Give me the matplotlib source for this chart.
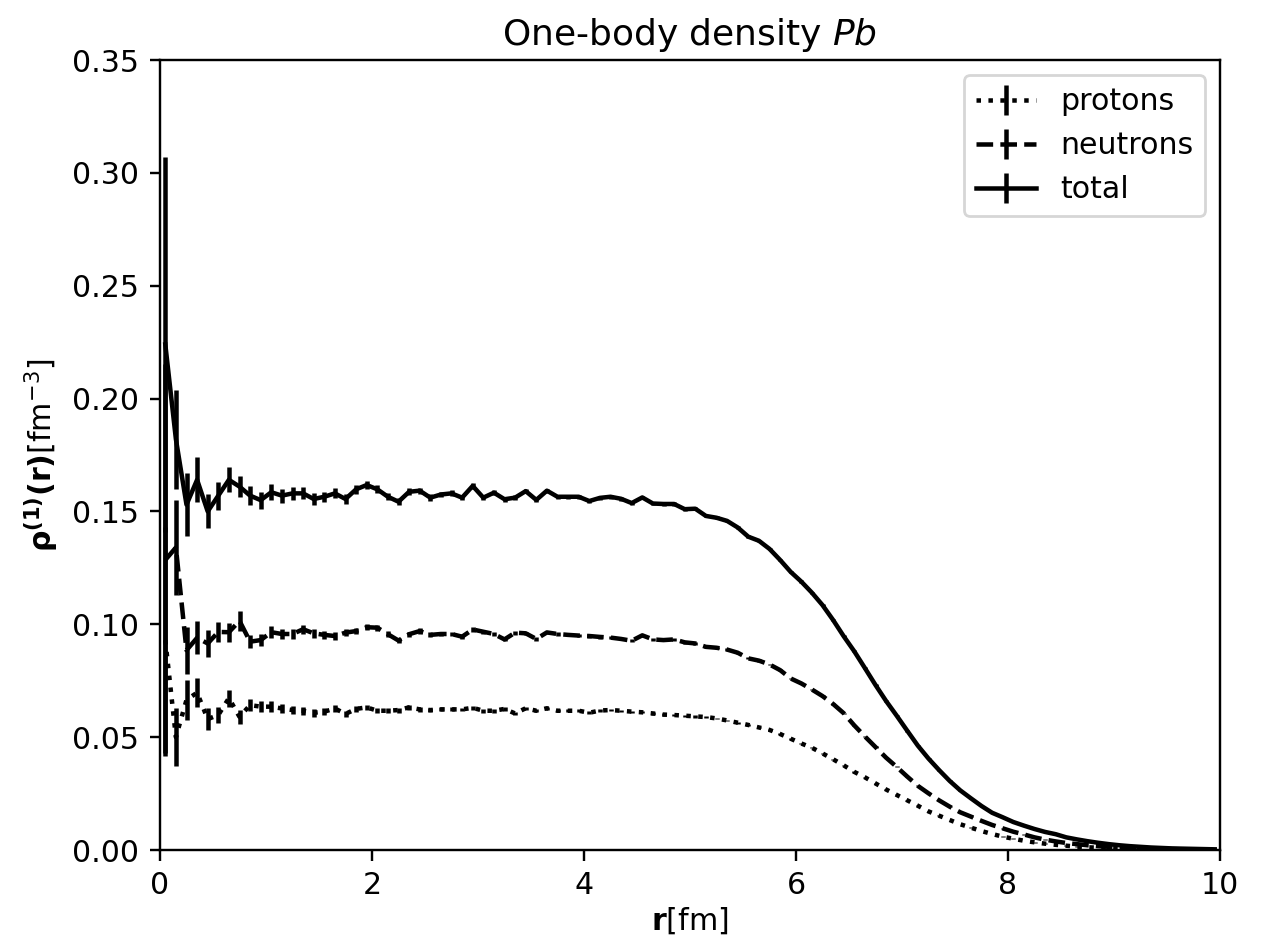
import matplotlib
matplotlib.use("Agg")
import matplotlib.pyplot as plt
import numpy as np

# radial grid (bin centres, fm)
r = [0.05 + 0.1 * i for i in range(100)]

protons = [
    0.093, 0.050, 0.0665, 0.0697, 0.058, 0.0598, 0.0673, 0.059, 0.0642, 0.0635,
    0.0635, 0.0627, 0.062, 0.0617, 0.0608, 0.0613, 0.0627, 0.0603, 0.0625, 0.0632,
    0.0617, 0.0617, 0.062, 0.0632, 0.0623, 0.062, 0.0623, 0.0623, 0.0623, 0.063,
    0.0617, 0.0617, 0.0625, 0.0605, 0.0628, 0.0617, 0.0628, 0.0617, 0.0617, 0.0617,
    0.0608, 0.0618, 0.062, 0.0617, 0.0613, 0.061, 0.0605, 0.060, 0.0598, 0.0595,
    0.0592, 0.0589, 0.0583, 0.0574, 0.0564, 0.0554, 0.0543, 0.0532, 0.0514, 0.0493,
    0.0472, 0.0453, 0.0428, 0.0402, 0.0375, 0.0346, 0.0322, 0.0295, 0.0268, 0.0244,
    0.022, 0.0196, 0.0171, 0.0152, 0.0133, 0.0114, 0.0099, 0.0084, 0.0071, 0.0059,
    0.005, 0.0041, 0.0034, 0.0028, 0.0023, 0.0019, 0.0015, 0.0012, 0.0010, 0.0008,
    0.0006, 0.0005, 0.0004, 0.0003, 0.0003, 0.0002, 0.0002, 0.0001, 0.0001, 0.0001,
]

neutrons = [
    0.1285, 0.134, 0.0885, 0.094, 0.0915, 0.0966, 0.0965, 0.1015, 0.0923, 0.093,
    0.0965, 0.0957, 0.0957, 0.0978, 0.096, 0.0953, 0.0948, 0.0963, 0.097, 0.0987,
    0.0985, 0.0956, 0.0928, 0.0956, 0.097, 0.0953, 0.0957, 0.0957, 0.0945, 0.0977,
    0.0967, 0.0957, 0.0933, 0.0963, 0.096, 0.0935, 0.0964, 0.0957, 0.0953, 0.095,
    0.0948, 0.0944, 0.0941, 0.0935, 0.0927, 0.0951, 0.0933, 0.093, 0.0933, 0.092,
    0.0915, 0.090, 0.0896, 0.0888, 0.0874, 0.0849, 0.0839, 0.0822, 0.0797, 0.076,
    0.0738, 0.0711, 0.0682, 0.0647, 0.0606, 0.0552, 0.0503, 0.0456, 0.0409, 0.0368,
    0.0325, 0.0284, 0.0251, 0.022, 0.0192, 0.0167, 0.0148, 0.0129, 0.0111, 0.0096,
    0.0081, 0.0069, 0.0056, 0.0046, 0.0038, 0.0031, 0.0026, 0.0021, 0.0017, 0.0014,
    0.0011, 0.0009, 0.0007, 0.0006, 0.0005, 0.0004, 0.0003, 0.0003, 0.0002, 0.0002,
]

total = [
    0.224, 0.182, 0.153, 0.164, 0.150, 0.157, 0.164, 0.161, 0.157, 0.155,
    0.1585, 0.157, 0.158, 0.158, 0.1555, 0.1565, 0.158, 0.1555, 0.1598, 0.1617,
    0.1598, 0.1565, 0.1543, 0.1587, 0.1592, 0.1561, 0.1575, 0.158, 0.1561, 0.1613,
    0.1561, 0.1583, 0.1554, 0.1561, 0.159, 0.1551, 0.1592, 0.1565, 0.1565, 0.1565,
    0.1546, 0.156, 0.1565, 0.1556, 0.1537, 0.1562, 0.1535, 0.1533, 0.1533, 0.151,
    0.1512, 0.148, 0.1472, 0.1458, 0.1429, 0.1388, 0.137, 0.1334, 0.1285, 0.1232,
    0.1189, 0.114, 0.1085, 0.1019, 0.0947, 0.088, 0.0806, 0.0731, 0.066, 0.0595,
    0.0528, 0.0462, 0.0405, 0.0354, 0.0306, 0.0264, 0.0229, 0.0195, 0.0165, 0.0145,
    0.0124, 0.0108, 0.0093, 0.008, 0.007, 0.0056, 0.0047, 0.0039, 0.0032, 0.0026,
    0.0021, 0.0017, 0.0014, 0.0011, 0.0009, 0.0007, 0.0006, 0.0005, 0.0004, 0.0003,
]

protons_err = [
    0.050, 0.013, 0.009, 0.0064, 0.0049, 0.0037, 0.0038, 0.0030, 0.0027, 0.0025,
    0.0023, 0.0021, 0.0019, 0.0018, 0.0017, 0.0016, 0.0015, 0.0014, 0.0013, 0.0012,
    0.0012, 0.0011, 0.0011, 0.0010, 0.0010, 0.0009, 0.0009, 0.0009, 0.0008, 0.0008,
    0.0008, 0.0008, 0.0007, 0.0007, 0.0007, 0.0007, 0.0007, 0.0006, 0.0006, 0.0006,
    0.0006, 0.0006, 0.0006, 0.0005, 0.0005, 0.0005, 0.0005, 0.0005, 0.0005, 0.0005,
    0.0005, 0.0004, 0.0004, 0.0004, 0.0004, 0.0004, 0.0004, 0.0004, 0.0004, 0.0004,
    0.0003, 0.0003, 0.0003, 0.0003, 0.0003, 0.0003, 0.0003, 0.0002, 0.0002, 0.0002,
    0.0002, 0.0002, 0.0002, 0.0002, 0.0001, 0.0001, 0.0001, 0.0001, 0.0001, 0.0001,
    0.0001, 0.0001, 0.0001, 0.0001, 0.0001, 0.0001, 0.0001, 0.0, 0.0, 0.0,
    0.0, 0.0, 0.0, 0.0, 0.0, 0.0, 0.0, 0.0, 0.0, 0.0,
]

neutrons_err = [
    0.087, 0.021, 0.0105, 0.0073, 0.0060, 0.0045, 0.0042, 0.0045, 0.0030, 0.0028,
    0.0026, 0.0024, 0.0022, 0.0020, 0.0019, 0.0018, 0.0017, 0.0016, 0.0015, 0.0014,
    0.0014, 0.0013, 0.0013, 0.0012, 0.0012, 0.0011, 0.0011, 0.0010, 0.0010, 0.0010,
    0.0009, 0.0009, 0.0009, 0.0009, 0.0008, 0.0008, 0.0008, 0.0008, 0.0007, 0.0007,
    0.0007, 0.0007, 0.0007, 0.0006, 0.0006, 0.0006, 0.0006, 0.0006, 0.0006, 0.0006,
    0.0005, 0.0005, 0.0005, 0.0005, 0.0005, 0.0005, 0.0005, 0.0004, 0.0004, 0.0004,
    0.0004, 0.0004, 0.0004, 0.0003, 0.0003, 0.0003, 0.0003, 0.0003, 0.0003, 0.0002,
    0.0002, 0.0002, 0.0002, 0.0002, 0.0002, 0.0001, 0.0001, 0.0001, 0.0001, 0.0001,
    0.0001, 0.0001, 0.0001, 0.0001, 0.0001, 0.0001, 0.0001, 0.0, 0.0, 0.0,
    0.0, 0.0, 0.0, 0.0, 0.0, 0.0, 0.0, 0.0, 0.0, 0.0,
]

total_err = [
    0.083, 0.022, 0.014, 0.010, 0.0075, 0.0062, 0.0055, 0.0048, 0.0042, 0.0038,
    0.0035, 0.0031, 0.0029, 0.0027, 0.0025, 0.0023, 0.0022, 0.0021, 0.0019, 0.0018,
    0.0017, 0.0016, 0.0016, 0.0015, 0.0014, 0.0014, 0.0013, 0.0013, 0.0012, 0.0012,
    0.0011, 0.0011, 0.0011, 0.0010, 0.0010, 0.0010, 0.0009, 0.0009, 0.0009, 0.0009,
    0.0008, 0.0008, 0.0008, 0.0008, 0.0008, 0.0007, 0.0007, 0.0007, 0.0007, 0.0007,
    0.0006, 0.0006, 0.0006, 0.0006, 0.0006, 0.0006, 0.0005, 0.0005, 0.0005, 0.0005,
    0.0005, 0.0005, 0.0004, 0.0004, 0.0004, 0.0004, 0.0004, 0.0003, 0.0003, 0.0003,
    0.0003, 0.0003, 0.0003, 0.0002, 0.0002, 0.0002, 0.0002, 0.0002, 0.0002, 0.0001,
    0.0001, 0.0001, 0.0001, 0.0001, 0.0001, 0.0001, 0.0001, 0.0, 0.0, 0.0,
    0.0, 0.0, 0.0, 0.0, 0.0, 0.0, 0.0, 0.0, 0.0, 0.0,
]

labels = ["protons", "neutrons", "total"]
styles = [":", "--", "-"]

scale = 1.08
plt.rcParams["font.size"] = 10 * scale
plt.rcParams["lines.linewidth"] = 1.5 * scale
plt.rcParams["axes.linewidth"] = 0.8 * scale
plt.rcParams["xtick.major.width"] = 0.8 * scale
plt.rcParams["ytick.major.width"] = 0.8 * scale
plt.rcParams["xtick.major.size"] = 3.5 * scale
plt.rcParams["ytick.major.size"] = 3.5 * scale
plt.rcParams["xtick.major.pad"] = 3.5 * scale
plt.rcParams["ytick.major.pad"] = 3.5 * scale
plt.rcParams["axes.titlepad"] = 5.0 * scale

fig = plt.figure(figsize=(6.32, 4.695), dpi=200)
ax = fig.add_axes([160 / 1264, 1 - 850 / 939, (1220 - 160) / 1264, (850 - 60) / 939])

for y, e, lab, ls in zip([protons, neutrons, total],
                         [protons_err, neutrons_err, total_err], labels, styles):
    ax.errorbar(r, y, yerr=e, color="k", linestyle=ls, label=lab)

ax.set_xlim(0, 10)
ax.set_ylim(0, 0.35)
ax.set_xticks([0, 2, 4, 6, 8, 10])
ax.set_yticks([0.0, 0.05, 0.10, 0.15, 0.20, 0.25, 0.30, 0.35])
ax.yaxis.set_major_formatter(matplotlib.ticker.FormatStrFormatter("%.2f"))
ax.set_xlabel(r"$\mathbf{r}$[fm]", labelpad=2.0)
ax.set_ylabel(r"$\mathbf{\rho^{(1)}(r)}$[fm$^{-3}$]", labelpad=4.3)
ax.set_title(r"One-body density $Pb$")
ax.legend(loc="upper right")

fig.savefig("out.png", dpi=200)
